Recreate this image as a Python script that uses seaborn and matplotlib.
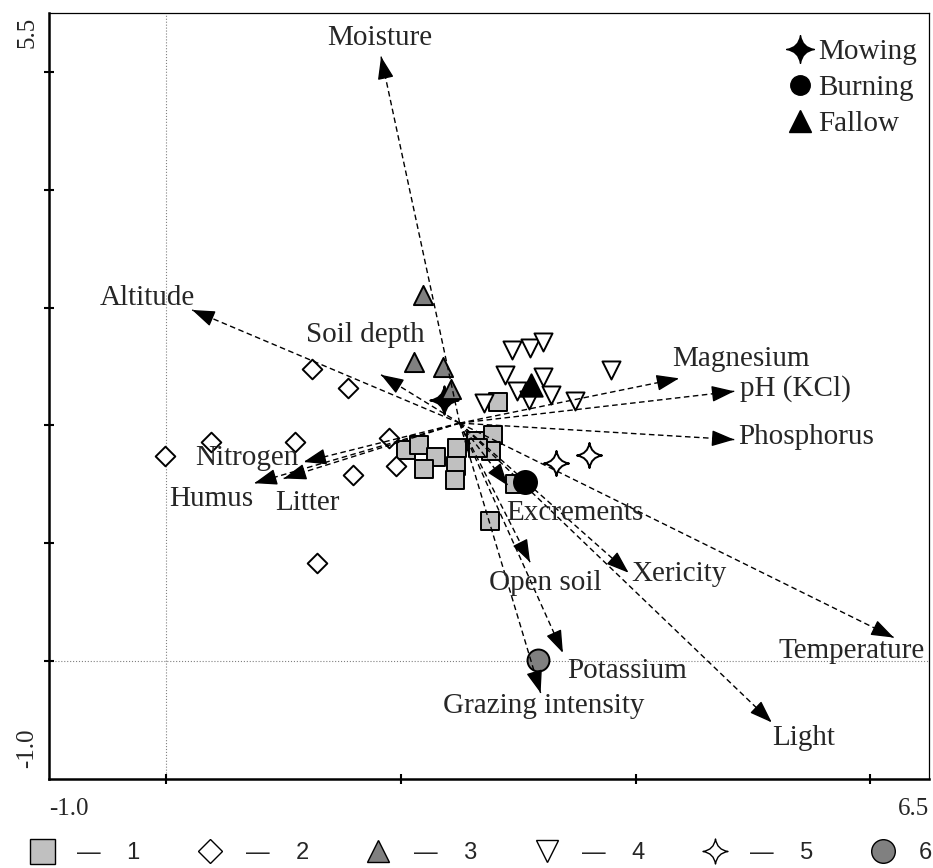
import matplotlib
matplotlib.use("Agg")
import matplotlib.pyplot as plt
import seaborn as sns
from matplotlib.path import Path
from matplotlib.lines import Line2D

# Ordination biplot: sample groups, treatments and environmental vectors

sns.set_theme(style="ticks")
plt.rcParams["font.family"] = ["Liberation Serif", "DejaVu Serif"]

# sample groups (axis 1 / axis 2 scores)
g1_x = [2.04, 2.15, 2.30, 2.20, 2.48, 2.47, 2.46, 2.64, 2.78, 2.77, 2.83, 2.76, 2.97, 2.66]
g1_y = [1.79, 1.83, 1.73, 1.63, 1.81, 1.66, 1.54, 1.87, 1.92, 1.78, 2.20, 1.19, 1.50, 1.81]
g2_x = [-0.01, 0.38, 1.10, 1.24, 1.55, 1.59, 1.28, 1.90, 1.96]
g2_y = [1.74, 1.86, 1.86, 2.48, 2.32, 1.58, 0.83, 1.89, 1.66]
g3_x = [2.19, 2.11, 2.36, 2.43]
g3_y = [3.11, 2.54, 2.50, 2.31]
g4_x = [2.95, 3.10, 3.21, 2.89, 3.21, 2.99, 3.09, 3.28, 3.48, 3.79, 2.71]
g4_y = [2.64, 2.66, 2.71, 2.43, 2.41, 2.29, 2.22, 2.26, 2.21, 2.47, 2.19]
g5_x = [3.32, 3.60]
g5_y = [1.68, 1.75]
g6_x = [3.17]
g6_y = [0.01]

# management treatments
mow_x, mow_y = [2.37], [2.22]
burn_x, burn_y = [3.06], [1.52]
fallow_x, fallow_y = [3.11], [2.34]

# environmental vectors (start point and arrow tips)
vec_start = (2.50, 2.02)
env_names = ["Moisture", "Altitude", "Soil depth", "Nitrogen", "Litter", "Humus",
             "Magnesium", "pH (KCl)", "Phosphorus", "Temperature", "Light",
             "Xericity", "Excrements", "Open soil", "Potassium", "Grazing intensity"]
env_x = [1.83, 0.22, 1.83, 1.17, 1.00, 0.75, 4.37, 4.84, 4.84, 6.20, 5.16,
         3.94, 2.91, 3.10, 3.38, 3.19]
env_y = [5.13, 2.98, 2.43, 1.69, 1.55, 1.51, 2.40, 2.29, 1.88, 0.20, -0.52,
         0.75, 1.49, 0.84, 0.07, -0.27]
lab_x = [1.82, -0.16, 1.70, 0.69, 1.20, 0.38, 4.90, 5.36, 5.45, 5.84, 5.43,
         4.37, 3.48, 3.23, 3.93, 3.22]
lab_y = [5.29, 3.08, 2.77, 1.72, 1.34, 1.38, 2.56, 2.31, 1.90, 0.085, -0.65,
         0.74, 1.26, 0.66, -0.08, -0.38]

group_labels = ["1", "2", "3", "4", "5", "6"]
treat_labels = ["Mowing", "Burning", "Fallow"]

# four pointed star marker
star = Path([(0, 1), (0.13, 0.13), (1, 0), (0.13, -0.13), (0, -1),
             (-0.13, -0.13), (-1, 0), (-0.13, 0.13), (0, 1), (0, 1)],
            [Path.MOVETO, Path.CURVE3, Path.CURVE3, Path.CURVE3, Path.CURVE3,
             Path.CURVE3, Path.CURVE3, Path.CURVE3, Path.CURVE3, Path.CLOSEPOLY])

fig, ax = plt.subplots(figsize=(9.33, 8.68), dpi=100)
fig.subplots_adjust(left=49 / 933, right=929 / 933, bottom=1 - 779 / 868, top=1 - 13 / 868)

ax.axvline(0, color="gray", lw=0.8, ls=":", zorder=0)
ax.axhline(0, color="gray", lw=0.8, ls=":", zorder=0)

ew = 1.4
sns.scatterplot(x=g1_x, y=g1_y, marker="s", s=185, color="#c0c0c0", edgecolor="black", linewidth=ew, ax=ax, zorder=2)
sns.scatterplot(x=g2_x, y=g2_y, marker="D", s=100, color="white", edgecolor="black", linewidth=ew, ax=ax, zorder=2)
sns.scatterplot(x=mow_x, y=mow_y, marker=star, s=420, color="black", edgecolor="black", linewidth=ew, ax=ax, zorder=2)
sns.scatterplot(x=g3_x, y=g3_y, marker="^", s=190, color="#808080", edgecolor="black", linewidth=ew, ax=ax, zorder=2)
sns.scatterplot(x=g4_x, y=g4_y, marker="v", s=169, color="white", edgecolor="black", linewidth=ew, ax=ax, zorder=2)
sns.scatterplot(x=fallow_x, y=fallow_y, marker="^", s=260, color="black", edgecolor="black", linewidth=ew, ax=ax, zorder=2)
sns.scatterplot(x=g5_x, y=g5_y, marker=star, s=330, color="white", edgecolor="black", linewidth=ew, ax=ax, zorder=2)
sns.scatterplot(x=g6_x, y=g6_y, marker="o", s=250, color="#808080", edgecolor="black", linewidth=ew, ax=ax, zorder=2)
sns.scatterplot(x=burn_x, y=burn_y, marker="o", s=275, color="black", edgecolor="black", linewidth=ew, ax=ax, zorder=2)

x0, y0 = vec_start
for name, ex, ey, tx, ty in zip(env_names, env_x, env_y, lab_x, lab_y):
    # dashed shaft
    ax.plot([x0, ex], [y0, ey], color="black", lw=1.0, ls=(0, (4, 2.5)), zorder=3)
    # solid head at the tip
    dx, dy = ex - x0, ey - y0
    ax.annotate("", xy=(ex, ey), xytext=(ex - 0.02 * dx, ey - 0.02 * dy),
                arrowprops=dict(arrowstyle="-|>,head_length=0.7,head_width=0.25",
                                mutation_scale=20, lw=1.0, color="black",
                                shrinkA=0, shrinkB=0),
                zorder=3)
    ax.text(tx, ty, name, ha="center", va="center", fontsize=21, zorder=4)

ax.set_xlim(-1.0, 6.5)
ax.set_ylim(-1.0, 5.5)
ax.set_xticks([0, 2, 4, 6])
ax.set_yticks([0, 1, 2, 3, 4, 5])
ax.set_xticklabels([])
ax.set_yticklabels([])
ax.tick_params(direction="inout", length=7, width=1.5, color="black")
for side in ["left", "bottom"]:
    ax.spines[side].set_linewidth(1.8)
    ax.spines[side].set_color("black")
for side in ["top", "right"]:
    ax.spines[side].set_linewidth(0.9)
    ax.spines[side].set_color("black")
    ax.spines[side].set_visible(True)

# corner labels
ax.text(0.0, -0.025, "-1.0", transform=ax.transAxes, ha="left", va="top", fontsize=18)
ax.text(1.0, -0.025, "6.5", transform=ax.transAxes, ha="right", va="top", fontsize=18)
ax.text(-0.012, 0.995, "5.5", transform=ax.transAxes, ha="right", va="top", rotation=90, fontsize=18)
ax.text(-0.012, 0.015, "-1.0", transform=ax.transAxes, ha="right", va="bottom", rotation=90, fontsize=18)

# treatment legend
treat_handles = [
    Line2D([], [], ls="none", marker=star, ms=20, color="black"),
    Line2D([], [], ls="none", marker="o", ms=14, color="black"),
    Line2D([], [], ls="none", marker="^", ms=16, color="black"),
]
ax.legend(treat_handles, treat_labels, loc="upper right", bbox_to_anchor=(0.986, 0.966),
          frameon=False, fontsize=21, handlelength=1.0, handletextpad=0.1,
          labelspacing=0.32, borderpad=0, borderaxespad=0)

# group legend under the plot
group_handles = [
    Line2D([], [], ls="none", marker="s", ms=18, mfc="#c0c0c0", mec="black", mew=1.0),
    Line2D([], [], ls="none", marker="D", ms=12, mfc="white", mec="black", mew=1.0),
    Line2D([], [], ls="none", marker="^", ms=16, mfc="#808080", mec="black", mew=1.0),
    Line2D([], [], ls="none", marker="v", ms=16, mfc="white", mec="black", mew=1.0),
    Line2D([], [], ls="none", marker=star, ms=18, mfc="white", mec="black", mew=1.0),
    Line2D([], [], ls="none", marker="o", ms=17, mfc="#808080", mec="black", mew=1.0),
]
group_texts = ["\u2014    " + g for g in group_labels[:5]] + [group_labels[5]]
fig.legend(group_handles, group_texts, loc="center left", bbox_to_anchor=(30 / 933, 1 - 853 / 868),
           ncol=6, frameon=False, prop={"family": "Liberation Sans", "size": 17},
           handlelength=1.0, handletextpad=1.0, columnspacing=2.45, borderpad=0, borderaxespad=0)

plt.savefig("out.png", dpi=100)
